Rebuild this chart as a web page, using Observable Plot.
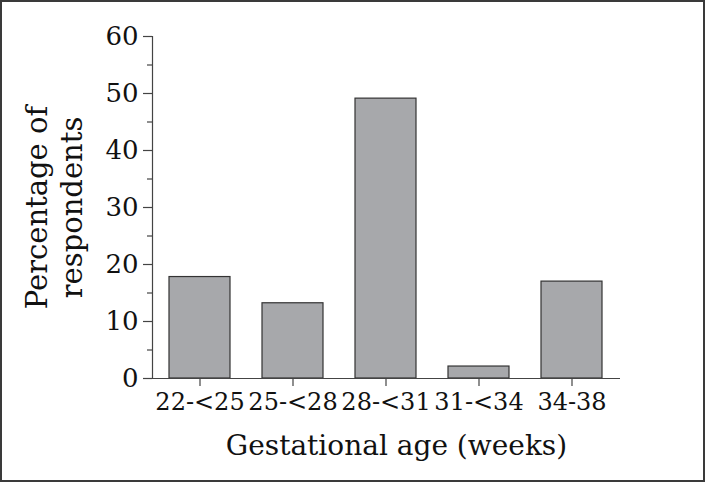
<!DOCTYPE html>
<html>
<head>
<meta charset="utf-8">
<script src="https://cdn.jsdelivr.net/npm/d3@7"></script>
<script src="https://cdn.jsdelivr.net/npm/@observablehq/plot@0.6"></script>
<style>
  html, body { margin: 0; padding: 0; background: #fff; }
  #wrap { position: relative; width: 705px; height: 482px; overflow: hidden; }
  #border { position: absolute; left: 0; top: 0; width: 705px; height: 482px; box-sizing: border-box; border: 2px solid #3a3a3a; pointer-events: none; }
  svg { display: block; }
</style>
</head>
<body>
<div id="wrap"><div id="chart"></div><div id="border"></div></div>
<script>
const categories = ["22-<25", "25-<28", "28-<31", "31-<34", "34-38"];
const percentages = [17.8, 13.2, 49.1, 2.1, 17.0];
const yTicks = [0, 10, 20, 30, 40, 50, 60];
const yMinorTicks = [5, 15, 25, 35, 45, 55];
const yTitle = "Percentage of\nrespondents";
const xTitle = "Gestational age (weeks)";

const data = categories.map((c, i) => ({category: c, value: percentages[i]}));
const font = "'DejaVu Serif', 'Liberation Serif', serif";

const chart = Plot.plot({
  width: 705,
  height: 482,
  marginLeft: 152,
  marginRight: 85,
  marginTop: 36,
  marginBottom: 104,
  style: {fontFamily: font, background: "white", color: "#111"},
  x: {domain: categories, paddingInner: 0.34, paddingOuter: 0.16, align: 0.5},
  y: {domain: [0, 60]},
  marks: [
    Plot.barY(data, {x: "category", y: "value", fill: "#a7a8ab", stroke: "#333", strokeWidth: 1.2}),
    Plot.ruleY([0], {stroke: "#444", strokeWidth: 1.2}),
    Plot.frame({anchor: "left", stroke: "#444", strokeWidth: 1.2}),
    Plot.axisY(yTicks, {tickSize: 9, tickPadding: 5, fontSize: 26, stroke: "#444", strokeWidth: 1.2, label: null, fill: "#111"}),
    Plot.axisY(yMinorTicks, {tickSize: 5, tickFormat: () => "", stroke: "#444", strokeWidth: 1.2, label: null}),
    Plot.axisX(categories, {tickSize: 8, tickPadding: 6, fontSize: 24, stroke: "#444", strokeWidth: 1.2, label: null, fill: "#111"}),
    Plot.text([yTitle], {frameAnchor: "left", dx: -99, dy: 0, rotate: -90, fontSize: 29, lineHeight: 1.18, textAnchor: "middle", fill: "#111"}),
    Plot.text([xTitle], {frameAnchor: "bottom", dx: 10, dy: 76, fontSize: 28, textAnchor: "middle", lineAnchor: "bottom", fill: "#111"})
  ]
});
document.getElementById("chart").appendChild(chart);
</script>
</body>
</html>
